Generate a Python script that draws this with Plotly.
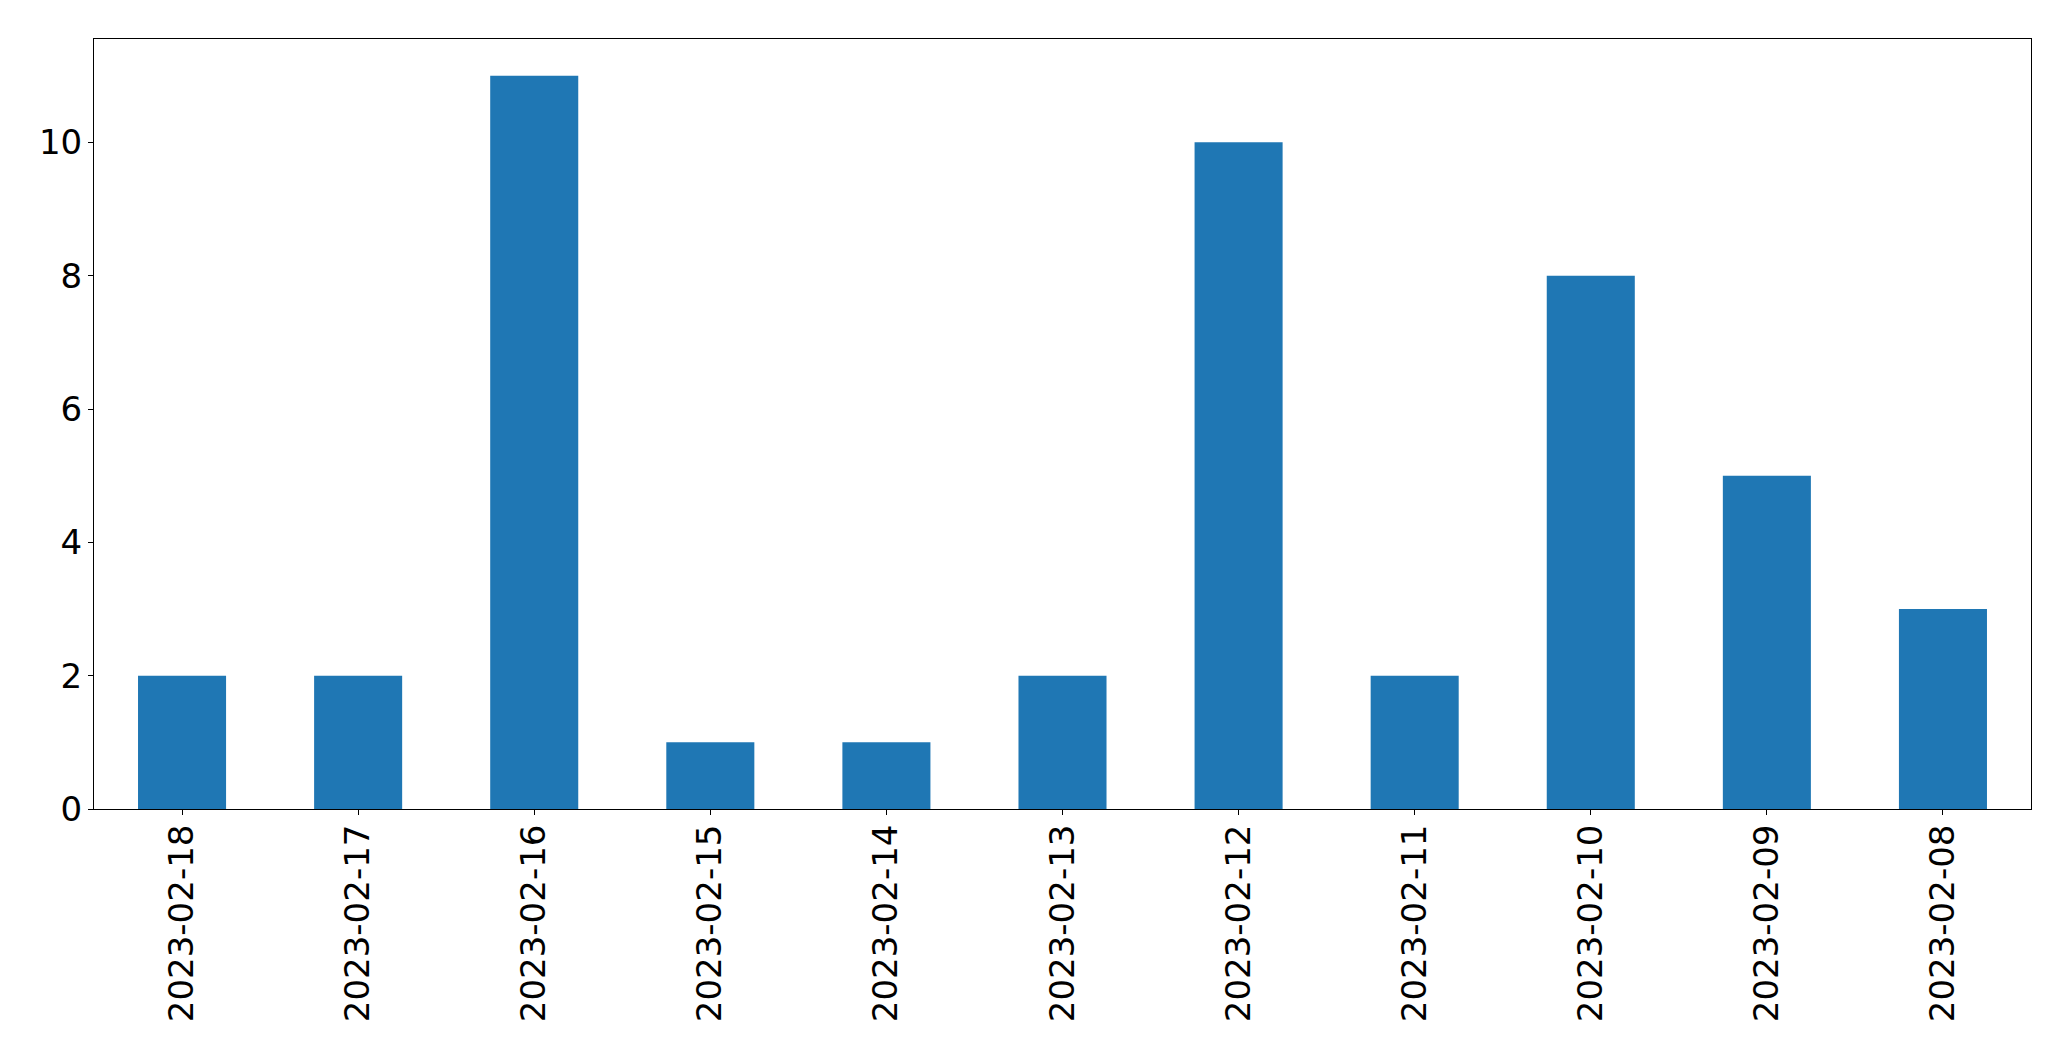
import plotly.graph_objects as go

categories = ["2023-02-18", "2023-02-17", "2023-02-16", "2023-02-15", "2023-02-14",
              "2023-02-13", "2023-02-12", "2023-02-11", "2023-02-10", "2023-02-09", "2023-02-08"]
values = [2, 2, 11, 1, 1, 2, 10, 2, 8, 5, 3]
y_ticks = [0, 2, 4, 6, 8, 10]

fig = go.Figure()
fig.add_trace(go.Bar(x=categories, y=values, width=0.5, marker=dict(color="#1f77b4", line=dict(width=0))))

font = dict(family="DejaVu Sans", size=34, color="black")
fig.update_layout(
    width=2071, height=1061,
    margin=dict(l=86, r=48, t=31, b=260, autoexpand=False),
    paper_bgcolor="white", plot_bgcolor="white",
    showlegend=False,
    font=font,
)
fig.update_xaxes(
    type="category", range=[-0.5, 10.5], tickangle=-90,
    showline=True, linecolor="black", linewidth=1, mirror=True,
    ticks="outside", ticklen=5, tickwidth=1, tickcolor="black",
    showgrid=False, zeroline=False, tickfont=font, ticklabelstandoff=-4,
)
fig.update_yaxes(
    range=[0, 11.55], tickvals=y_ticks, ticktext=[str(v) for v in y_ticks],
    showline=True, linecolor="black", linewidth=1, mirror=True,
    ticks="outside", ticklen=5, tickwidth=1, tickcolor="black",
    showgrid=False, zeroline=False, tickfont=font, ticklabelstandoff=-1,
)
fig.write_html("out.html")
